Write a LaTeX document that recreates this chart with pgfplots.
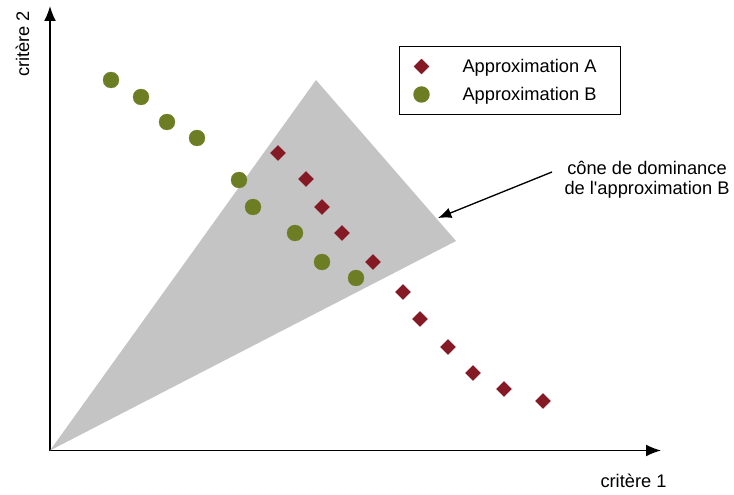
\documentclass[border=0pt]{standalone}
\usepackage{pgfplots}
\pgfplotsset{compat=1.18}
\usetikzlibrary{arrows.meta}
\usepackage{fontspec}
\setmainfont{Liberation Sans}
\definecolor{cRed}{RGB}{133,26,36}
\definecolor{cGreen}{RGB}{108,125,35}
\definecolor{cGray}{RGB}{196,196,196}
\begin{document}
\begin{tikzpicture}[font=\fontsize{13.7}{15}\selectfont]
\begin{axis}[
  scale only axis, width=458.25pt, height=333.375pt,
  xmin=0, xmax=611, ymin=0, ymax=444.5,
  axis lines=left,
  axis line style={line width=1.25pt, -{Latex[length=11.25pt,width=9pt]}},
  xtick=\empty, ytick=\empty, clip=false,
  legend style={at={(axis cs:349,404.5)}, anchor=north west, draw=black,
    line width=0.75pt, inner xsep=0pt, inner ysep=4.5pt,
    nodes={inner sep=0pt}, row sep=0pt,
    font=\fontsize{13.7}{15}\selectfont},
  legend cell align=left,
  legend image code/.code={\path[draw=none, fill=none] (0pt,-10.5pt) rectangle (47.25pt,10.5pt);
    \draw[#1] plot coordinates {(16.5pt,0pt)};},
]
\addplot[fill=cGray, draw=none, forget plot] coordinates {(0,0) (266,370.5) (406,209.5)} --cycle;
\addplot[only marks, mark=square*, mark size=4pt,
  mark options={rotate=45, fill=cRed, draw=cRed, line width=0.2pt}]
  coordinates {
  (228,297.5) (256,271.5) (272,243.5) (292,217.5) (323,188.5) (353,158.5)
  (370,131.5) (398,103.5) (423,77.5) (454,61.5) (493,49.5)};
\addlegendentry{Approximation A\hspace*{18pt}}
\addplot[only marks, mark=*, mark size=6pt,
  mark options={fill=cGreen, draw=cGreen, line width=0.2pt}]
  coordinates {
  (61,370.5) (91,353.5) (117,328.5) (147,312.5) (189,270.5) (203,243.5)
  (245,217.5) (272,188.5) (306,172.5)};
\addlegendentry{Approximation B\hspace*{18pt}}
\node[align=center, inner sep=0pt] at (axis cs:597,271) {cône de dominance\\de l\textquotesingle approximation B};
\draw[line width=1pt, -{Latex[length=10pt,width=8pt]}] (axis cs:502,278.5) -- (axis cs:388,232.5);
\node[inner sep=0pt] at (axis cs:583.5,-30.5) {critère 1};
\node[inner sep=0pt, rotate=90] at (axis cs:-27.5,406.5) {critère 2};
\end{axis}
\pgfresetboundingbox
\path (-37.5pt,-33.375pt) rectangle (513pt,337.875pt);
\end{tikzpicture}
\end{document}
